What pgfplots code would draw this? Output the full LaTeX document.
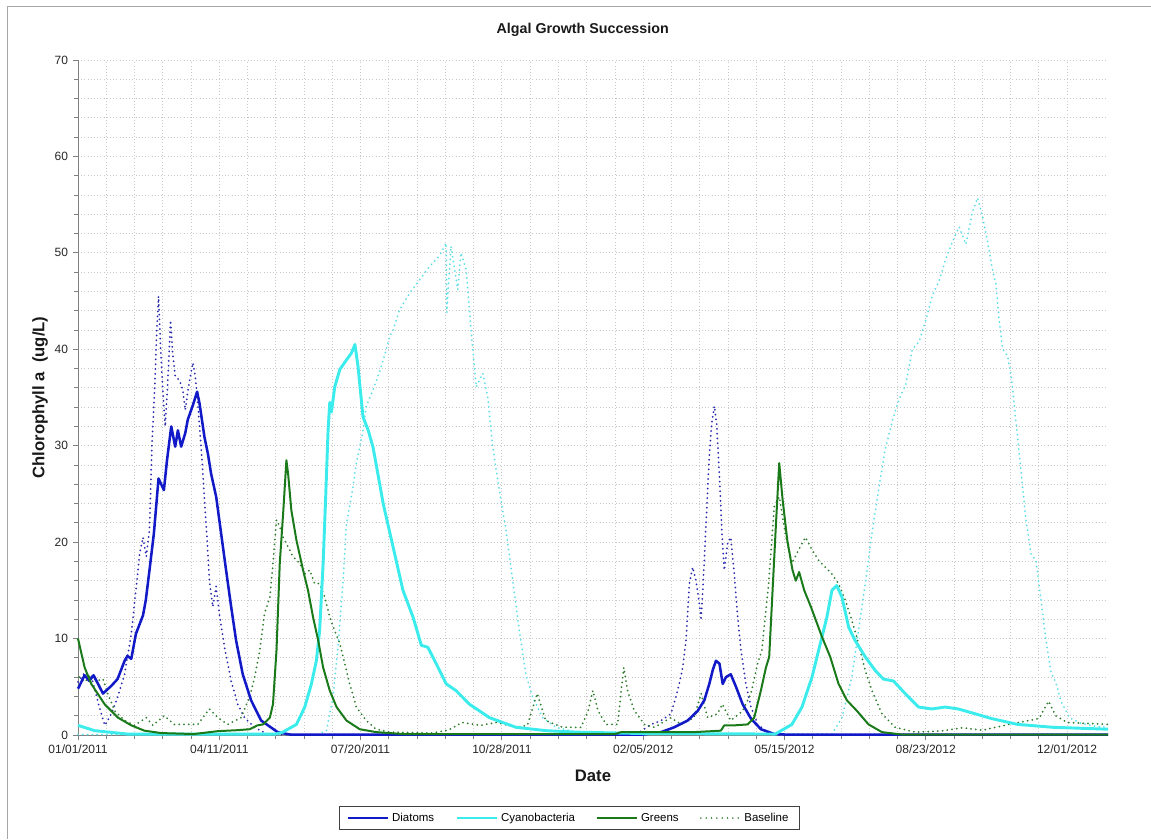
\documentclass[border=0pt]{standalone}
\usepackage{fontspec}
\setmainfont{Liberation Sans}
\usepackage{pgfplots}
\usepackage{pgfplotstable}
\pgfplotsset{compat=1.18}

\definecolor{diat}{RGB}{18,26,200}
\definecolor{cyano}{RGB}{60,236,236}
\definecolor{greens}{RGB}{26,122,26}
\definecolor{diatb}{RGB}{40,40,175}
\definecolor{cyanob}{RGB}{90,222,230}
\definecolor{greensb}{RGB}{45,125,45}
\definecolor{axgray}{RGB}{128,128,128}
\definecolor{gridgray}{RGB}{200,200,200}

% day number since 01/01/2011, chlorophyll a (ug/L)
\pgfplotstableread{
d v
0 4.8
4.7 6.2
8 5.6
11 6.2
17.7 4.3
23.6 5.1
28 5.8
33 7.7
35 8.2
37.7 7.9
41 10.5
46 12.4
48 14.0
50.6 17.1
53.7 20.9
57 26.6
60.8 25.4
63 28.5
66 32
68.8 29.9
70.7 31.6
73 29.9
75.9 31.3
77.7 32.7
81.3 34.2
84.3 35.6
86 34.4
89.5 30.9
91.9 29.2
94.2 27.1
97.8 24.7
101.3 20.9
104.8 17.1
108.4 13.3
111.9 9.8
116.6 6.3
122.5 3.6
129.6 1.5
141.3 0.3
150 0.05
400 0.05
412.7 0.3
422 0.8
431.5 1.5
438.6 2.5
443.3 3.6
446.8 5.3
449.2 6.7
451.5 7.7
454 7.4
456.3 5.3
458.6 6.0
462 6.3
465.7 5.0
470.4 3.2
476.3 1.7
483.3 0.6
492.8 0.1
500 0.05
729 0.05
}\diatoms

\pgfplotstableread{
d v
0 5.5
5 6.5
10 5.8
14 3.5
16.5 2.2
19 1.0
23.6 2.2
28 3.9
33 6.3
37.7 10.5
41 15
43.6 18.8
46 20.5
48.3 18.5
50.6 21.3
52.3 29.9
54.2 35.8
55.8 42
57 45.5
58.4 40.3
60 35.8
61.7 32
63.6 36.8
65.5 43
67 39.6
68.8 37.2
71.8 36.8
74.2 35.8
75.9 33.7
78.2 36.1
81.3 38.6
83 37.2
85.3 33.4
87.6 28.9
89.5 24.4
91.4 20.2
93 16
95.4 13.3
97.8 15.4
100 12.6
103.7 9.1
108.4 5.6
113 3.2
117.8 1.8
124.9 0.8
134 0.1
140 0.05
395 0.05
405.6 1.1
412.7 1.5
419.7 2.2
424.4 4.6
428 7.0
430.3 9.8
432.7 15.7
435 17.4
437.4 16
439.8 13.6
441 11.9
442.8 16.7
444.5 21.9
446.8 28.9
448.5 32.3
450.4 34.1
452 32.3
453.9 27.1
455.8 20.9
457.4 17.1
459.8 19.9
462 20.5
464.5 16.7
466.9 12.2
469.2 8.8
472.7 5.3
476.3 2.9
481 1.1
488 0.3
495 0.05
729 0.05
}\diatomsbase

\pgfplotstableread{
d v
0 1.0
11.8 0.45
35 0.1
140 0.1
145 0.3
154.6 1.1
160.5 2.9
165.2 5.3
168.7 7.7
171 10.8
173.5 17.8
175.3 24.7
177 31.6
178.2 34.5
179.4 33.5
181.7 36.1
185.3 37.9
190 38.9
193.5 39.6
196 40.5
198.2 38.2
201.7 33
205.4 31.6
208.7 29.9
210 28.9
216 24
223 19.5
230 15
237.2 12.2
243 9.3
247.6 9.1
253.5 7.4
260.6 5.3
267.6 4.6
277 3.2
291.2 1.8
310 0.8
331.2 0.45
352.4 0.3
400 0.15
493.5 0.1
505.3 1.1
512.4 2.9
519.5 6
525.4 9.5
530 12.2
533.6 15
537 15.5
540.7 14.3
545.4 11.2
550 9.8
557.2 8.1
564.2 6.7
570 5.8
577.2 5.6
585.4 4.3
594.9 2.9
604.3 2.7
613.7 2.9
623 2.7
635 2.2
646.7 1.7
665 1.1
690 0.8
729 0.6
}\cyano

\pgfplotstableread{
d v
0 0.05
170 0.05
175.8 0.45
180.5 3.9
182.8 7.4
184 9.1
187.6 16
190 21.9
194.6 25.7
197 28.2
201.8 31.6
204 34.1
208.8 35.8
213.5 37.7
218.2 40
220.5 41.3
223 42
227.6 44.1
234.6 45.8
241.7 47.2
248.8 48.6
255.8 49.7
260.6 51
261 43.8
264 50.7
268.8 46.2
271 50
274.7 48.3
278.2 42
281.8 36.1
286.5 37.5
290 35.1
293.5 29.9
298.2 25.4
303 21.2
307.7 16
312.4 10.8
317 6.3
321.8 3.9
328.9 1.8
338.3 0.8
352.4 0.3
380 0.1
533.6 0.1
540.7 1.8
547.7 6
552.4 10.8
557.2 15.7
561.9 20.9
566.6 25.4
571.3 29.6
576.4 32.6
581 34.8
585.8 36.3
590.5 40
595.3 40.8
600 43
604.7 45.6
609.5 47.1
614.2 49.4
619 51.2
623.6 52.7
628.4 50.9
633 54.2
636.6 55.7
640.2 53.8
643.7 51.2
647.3 48.2
649.6 46.8
652 43
654.4 40
658 39.3
660.3 37.4
663.8 32.6
667.4 27.4
671 22.2
674.5 18.8
678 18.1
681.6 14
685 9.9
688.7 6.5
692.2 5.4
695.7 3.5
701.7 1.8
710 1.2
720 0.9
729 0.8
}\cyanobase

\pgfplotstableread{
d v
0 10
4.7 7.0
9.4 5.3
18.8 3.2
28.3 1.8
37.7 1.0
47 0.45
59 0.2
82 0.1
99 0.4
113 0.5
121.6 0.6
127 1.0
131 1.1
135.8 1.8
138 3.2
140.5 8.8
142.8 17.8
145.2 23
147.5 28.5
148.7 27.1
151 23.3
154.6 20.2
159.3 17.1
162.8 15
166.4 12.2
170 9.8
173.5 7.0
178.2 4.6
183 2.9
190 1.5
199.4 0.6
211 0.3
230 0.1
380 0.1
384.4 0.3
436 0.3
455 0.45
457.4 1.0
464.5 1.0
474 1.1
478.6 1.8
483.3 4.6
486.9 7.0
489.2 8.1
491.6 15
494 21.9
496.3 28.2
498.7 24.4
502 20.2
505.7 17.1
508 16
510.4 16.9
514 15
518.7 13.3
526.5 10.2
532.4 8.1
538.3 5.3
544.2 3.6
551.3 2.5
559.5 1.1
569 0.3
583 0.05
729 0.05
}\greens

\pgfplotstableread{
d v
1 6.0
5 5.5
9 6.3
13 5.6
17.7 5.8
21 4.3
26 2.5
33 1.5
40 1.0
48.3 1.8
53 1.0
61 2.0
68 1.1
77.7 1.1
84.8 1.1
93 2.7
99 1.8
106 1.1
115.4 1.8
121.6 4.0
125 6
128.7 8.8
132 12.6
135.8 14.3
138 17.8
140.5 22.3
142.8 21.6
145.2 20.5
148.7 19.5
152.2 18.5
157 17.8
160.5 16.7
164 17.1
167.5 15.7
171 15.7
174.6 14.3
178.2 12.2
181.7 10.8
185.3 9.5
188.8 7.4
192.3 5.3
197 2.9
204 1.5
211 0.6
220.6 0.3
250 0.2
262 0.5
272 1.3
285 1.0
296 1.3
310 0.8
318 1.0
325 4.3
331 1.5
343 0.8
356 0.8
361 2.5
364.4 4.6
368 2.5
373.8 1.1
382 1.1
384.4 4.6
386.3 7.0
389 4.6
393.8 2.5
401 1.1
408 0.8
419.7 1.8
426.8 1.1
436 1.8
441 4.3
445.6 1.8
452.7 2.2
456 3.2
462 1.5
470.4 2.5
476.3 4.3
481 7.4
484 8.8
488.8 15.7
492.8 23.7
496.3 24.7
500.6 20.9
505.3 17.8
510 19.2
514.8 20.5
519.5 19.2
524.2 18.1
528.9 17.4
533.6 16.7
538.3 15.7
543 14
547.7 11.9
552.4 9.5
557.2 6.7
561.9 4.6
569 2.2
578.4 0.8
592.5 0.3
610 0.4
626 0.75
640 0.5
659 1.1
680 1.7
687 3.5
692 2.0
700 1.3
729 1.1
}\greensbase

\tikzset{
  basedots/.style={line width=1.5pt, dash pattern=on 0pt off 3.6pt, line cap=round},
}

\begin{document}
\begin{tikzpicture}
\path[use as bounding box] (0,0) rectangle (863.25pt,629.25pt);
\draw[color=gray!70, line width=0.6pt] (5.25pt,0) -- (5.25pt,624.75pt) -- (863.25pt,624.75pt);
\begin{axis}[
  at={(58.5pt,78pt)}, anchor=south west,
  scale only axis,
  width=772.5pt, height=506.25pt,
  xmin=0, xmax=729, ymin=0, ymax=70,
  axis lines*=left,
  axis line style={color=axgray, line width=0.6pt},
  clip=false,
  xtick={0,100,...,700},
  xticklabels={01/01/2011,04/11/2011,07/20/2011,10/28/2011,02/05/2012,05/15/2012,08/23/2012,12/01/2012},
  ytick={0,10,...,70},
  minor x tick num=4,
  minor y tick num=4,
  tick align=outside,
  major tick length=4pt,
  minor tick length=3pt,
  tick style={color=axgray, line width=0.6pt},
  grid=both,
  major grid style={color=gridgray, dotted, line width=0.6pt},
  minor grid style={color=gridgray, dotted, line width=0.6pt},
  /pgf/number format/assume math mode=true,
  ticklabel style={font=\fontsize{9}{10}\selectfont, color=black!85},
  xlabel={Date},
  xlabel style={font=\fontsize{12.5}{14}\selectfont\bfseries, at={(axis description cs:0.5,-0.0607)}, anchor=center, color=black!90},
  ylabel={Chlorophyll a\ \ (ug/L)},
  ylabel style={font=\fontsize{12.5}{14}\selectfont\bfseries, at={(axis description cs:-0.0369,0.5)}, anchor=center, color=black!90},
  legend columns=4,
  legend style={at={(axis description cs:0.4767,-0.123)}, anchor=center,
    draw=black!75, line width=0.6pt, fill=white,
    font=\fontsize{8.6}{10}\selectfont, inner xsep=6pt, inner ysep=3pt,
    /tikz/every even column/.append style={column sep=14pt}},
  legend cell align=left,
  legend image code/.code={\draw[#1] (0pt,0pt) -- (30pt,0pt);},
]
\addplot[forget plot, diatb, basedots] table[x=d,y=v] {\diatomsbase};
\addplot[forget plot, cyanob, basedots] table[x=d,y=v] {\cyanobase};
\addplot[forget plot, greensb, basedots] table[x=d,y=v] {\greensbase};
\addplot[diat, line width=1.9pt, line join=round] table[x=d,y=v] {\diatoms};
\addlegendentry{Diatoms}
\addplot[cyano, line width=2.2pt, line join=round] table[x=d,y=v] {\cyano};
\addlegendentry{Cyanobacteria}
\addplot[greens, line width=1.5pt, line join=round] table[x=d,y=v] {\greens};
\addlegendentry{Greens}
\addlegendimage{greensb, line width=1.3pt, dash pattern=on 0pt off 4pt, line cap=round}
\addlegendentry{Baseline}
\node[font=\fontsize{10.7}{12}\selectfont\bfseries, color=black!90, anchor=center]
  at (axis description cs:0.490,1.044) {Algal Growth Succession};
\end{axis}
\end{tikzpicture}
\end{document}
